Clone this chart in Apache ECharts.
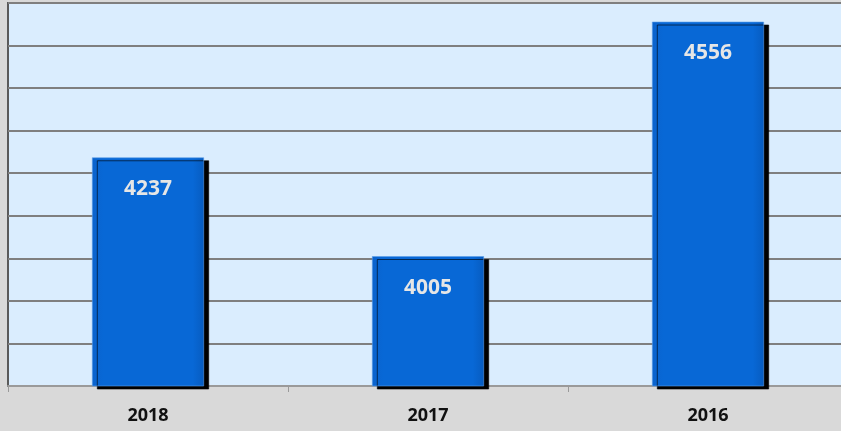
<!DOCTYPE html>
<html>
<head>
<meta charset="utf-8">
<script src="https://cdn.jsdelivr.net/npm/echarts@6/dist/echarts.min.js"></script>
<style>
    html, body { margin: 0; padding: 0; background: #d9d9d9; }
    #chart { width: 841px; height: 431px; }
</style>
</head>
<body>
<div id="chart"></div>
<script>
const years = ["2018", "2017", "2016"];
const counts = [4237, 4005, 4556];

const chart = echarts.init(document.getElementById("chart"));
chart.setOption({
    backgroundColor: "#d9d9d9",
    animation: false,
    grid: {
        left: 8,
        right: -7,
        top: 3,
        bottom: 45,
        outerBoundsMode: "none",
        show: true,
        backgroundColor: "#daedfe",
        borderColor: "#5a5a5a",
        borderWidth: 2,
    },
    xAxis: {
        type: "category",
        data: years,
        axisLine: { lineStyle: { color: "#9a9a9a", width: 2 } },
        axisTick: { show: true, length: 6, lineStyle: { color: "#9a9a9a" } },
        axisLabel: {
            color: "#111",
            fontSize: 18,
            fontWeight: "bold",
            fontFamily: "Open Sans",
            margin: 21,
        },
    },
    yAxis: {
        type: "value",
        min: 3700,
        max: 4600,
        interval: 100,
        axisLabel: { show: false },
        axisLine: { show: false },
        axisTick: { show: false },
        splitLine: { lineStyle: { color: "#7f7f7f", width: 2 } },
    },
    series: [
        {
            type: "bar",
            data: counts,
            barWidth: "40%",
            itemStyle: {
                color: new echarts.graphic.LinearGradient(0, 0, 1, 0, [
                    { offset: 0, color: "#0a62cc" },
                    { offset: 0.1, color: "#0868d6" },
                    { offset: 0.9, color: "#0868d6" },
                    { offset: 1, color: "#075cc0" },
                ]),
                borderColor: "#5c9ee8",
                borderWidth: 0.6,
                shadowColor: "rgba(0,0,0,1)",
                shadowBlur: 0,
                shadowOffsetX: 5,
                shadowOffsetY: 3,
            },
            label: {
                show: true,
                position: "insideTop",
                distance: 21,
                color: "#e6e6e6",
                fontSize: 21,
                fontWeight: "bold",
                fontFamily: "Open Sans",
            },
        },
    ],
});
</script>
</body>
</html>
